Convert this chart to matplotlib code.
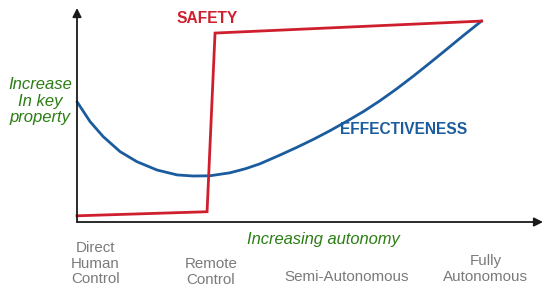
import matplotlib
matplotlib.use("Agg")
import matplotlib.pyplot as plt

plt.rcParams['font.family'] = ['Liberation Sans', 'DejaVu Sans']

# autonomy (0-100) vs key property (0-100)
safety_x = [0, 27.8, 29.5, 86.5]
safety_y = [2.9, 4.8, 88.3, 93.9]

effect_x = [0, 2.8, 5.6, 9.2, 12.8, 17.1, 21.4, 24.8, 28.4, 32.7, 36.0, 39.1,
            43.4, 46.9, 50.5, 54.1, 57.6, 61.2, 64.7, 68.3, 71.9, 75.4, 79.0,
            82.5, 86.5]
effect_y = [56.2, 46.9, 39.9, 32.9, 28.2, 24.3, 22.0, 21.5, 21.6, 23.0, 24.9, 27.2,
            31.3, 34.8, 38.6, 42.7, 47.0, 51.6, 56.6, 62.2, 68.2, 74.3, 80.7,
            87.0, 94.0]

stages = ['Direct\nHuman\nControl', 'Remote\nControl', 'Semi-Autonomous', 'Fully\nAutonomous']
stage_x = [3.9, 28.6, 57.6, 87.3]
stage_y = [-19.4, -23.3, -25.9, -21.9]

red = '#cf1f2e'
blue = '#1b5c9e'
green = '#2b7d14'
gray = '#7a7a7a'

fig = plt.figure(figsize=(5.5, 2.97), dpi=100)
ax = fig.add_axes([0.14, 0.2525, 0.8473, 0.7205])
ax.set_xlim(0, 99.6)
ax.set_ylim(0, 100)
ax.axis('off')

# axes arrows
arr = dict(arrowstyle='-|>', color='#1a1a1a', lw=1.3, mutation_scale=13, shrinkA=0, shrinkB=0)
ax.annotate('', xy=(1, 0), xytext=(0, 0), xycoords='axes fraction', arrowprops=arr)
ax.annotate('', xy=(0, 1), xytext=(0, 0), xycoords='axes fraction', arrowprops=arr)

ax.plot(effect_x, effect_y, color=blue, lw=2, solid_capstyle='round',
        solid_joinstyle='round', clip_on=False)
ax.plot(safety_x, safety_y, color=red, lw=2, solid_joinstyle='miter', clip_on=False)

ax.text(27.8, 94.9, 'SAFETY', color=red, fontsize=11.2, fontweight='bold',
        ha='center', va='center')
ax.text(69.9, 43, 'EFFECTIVENESS', color=blue, fontsize=11.2, fontweight='bold',
        ha='center', va='center')

ax.text(-7.9, 56.5, 'Increase\nIn key\nproperty', color=green, fontsize=12,
        style='italic', ha='center', va='center', linespacing=1.13, clip_on=False)
ax.text(52.6, -8.4, 'Increasing autonomy', color=green, fontsize=11.9,
        style='italic', ha='center', va='center', clip_on=False)

for s, x, y in zip(stages, stage_x, stage_y):
    ax.text(x, y, s, color=gray, fontsize=10.9, ha='center', va='center',
            linespacing=1.15, clip_on=False)

fig.savefig('out.png', dpi=100)
